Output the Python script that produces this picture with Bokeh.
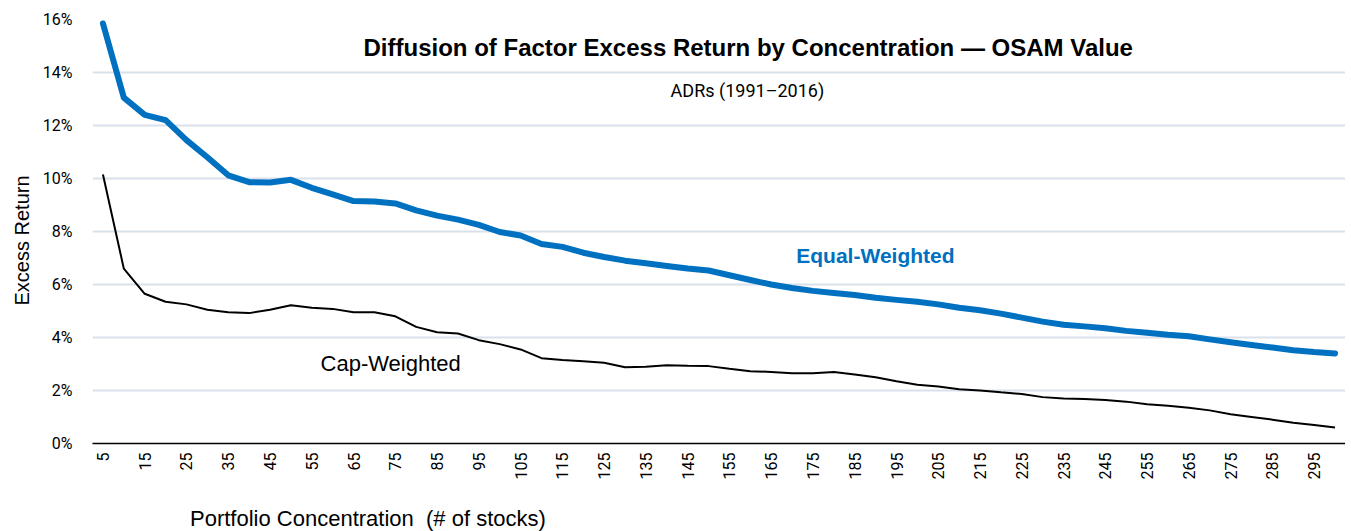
from bokeh.plotting import figure
from bokeh.models import FixedTicker, Label, Range1d, CustomJSTickFormatter, Title, Div
from bokeh.layouts import column
from bokeh.embed import file_html
from bokeh.resources import INLINE
import math

concentration = list(range(5, 305, 5))
equal_weighted = [15.85, 13.05, 12.40, 12.20, 11.45, 10.80, 10.12, 9.86, 9.85, 9.95,
                  9.65, 9.40, 9.15, 9.13, 9.06, 8.80, 8.60, 8.45, 8.25, 7.98,
                  7.85, 7.53, 7.42, 7.20, 7.04, 6.90, 6.80, 6.70, 6.60, 6.53,
                  6.35, 6.17, 6.00, 5.87, 5.76, 5.68, 5.60, 5.50, 5.42, 5.35,
                  5.25, 5.12, 5.03, 4.90, 4.75, 4.60, 4.48, 4.42, 4.35, 4.25,
                  4.18, 4.10, 4.05, 3.93, 3.82, 3.72, 3.62, 3.52, 3.45, 3.40]
cap_weighted = [10.15, 6.60, 5.65, 5.35, 5.25, 5.05, 4.95, 4.92, 5.05, 5.22,
                5.12, 5.08, 4.95, 4.95, 4.80, 4.40, 4.20, 4.15, 3.90, 3.75,
                3.55, 3.22, 3.15, 3.10, 3.05, 2.88, 2.90, 2.95, 2.93, 2.92,
                2.82, 2.73, 2.70, 2.65, 2.65, 2.70, 2.60, 2.50, 2.35, 2.22,
                2.15, 2.05, 2.00, 1.93, 1.87, 1.75, 1.70, 1.68, 1.64, 1.58,
                1.48, 1.42, 1.35, 1.25, 1.10, 1.00, 0.90, 0.78, 0.70, 0.60]
x_ticks = list(range(5, 300, 10))
y_ticks = [0, 2, 4, 6, 8, 10, 12, 14, 16]

title_text = "Diffusion of Factor Excess Return by Concentration \u2014 OSAM Value"
subtitle_text = "ADRs (1991\u20132016)"
x_label = "Portfolio Concentration&nbsp; (# of stocks)"
y_label = "Excess Return"

BLUE = "#0070c0"
NARROW = "Roboto"
SANS = "Liberation Sans"

p = figure(width=1345, height=488, output_backend="svg", toolbar_location=None,
           x_range=Range1d(2.5, 302.5), y_range=Range1d(0, 16),
           min_border_left=92, min_border_right=0, min_border_top=19, min_border_bottom=45)
p.outline_line_color = None
p.background_fill_color = "white"

p.line(concentration, equal_weighted, line_color=BLUE, line_width=6, line_join="round", line_cap="round")
p.line(concentration, cap_weighted, line_color="black", line_width=2)

# axes
p.xaxis.ticker = FixedTicker(ticks=x_ticks)
p.xaxis.major_label_orientation = math.pi / 2
p.xaxis.major_tick_out = 0
p.xaxis.major_tick_in = 0
p.xaxis.minor_tick_out = 0
p.xaxis.minor_tick_in = 0
p.xaxis.axis_line_color = "black"
p.xaxis.axis_line_width = 1.5
p.xaxis.major_label_standoff = 9
p.xaxis.major_label_text_font = NARROW
p.xaxis.major_label_text_font_size = "16px"
p.xaxis.major_label_text_color = "black"

p.yaxis.ticker = FixedTicker(ticks=y_ticks)
p.yaxis.formatter = CustomJSTickFormatter(code="return tick.toFixed(0) + '%';")
p.yaxis.axis_line_color = None
p.yaxis.major_tick_out = 0
p.yaxis.major_tick_in = 0
p.yaxis.minor_tick_out = 0
p.yaxis.minor_tick_in = 0
p.yaxis.major_label_standoff = 20
p.yaxis.major_label_text_font = NARROW
p.yaxis.major_label_text_font_size = "16px"
p.yaxis.major_label_text_color = "black"

p.xgrid.grid_line_color = None
p.ygrid.ticker = FixedTicker(ticks=y_ticks)
p.ygrid.grid_line_color = "#d9e2ec"
p.ygrid.grid_line_width = 2

p.add_layout(Label(x=159.5, y=14.94, text=title_text, text_align="center", text_baseline="middle",
                   text_font=SANS, text_font_style="bold", text_font_size="24px", text_color="black"))
p.add_layout(Label(x=159.3, y=13.32, text=subtitle_text, text_align="center", text_baseline="middle",
                   text_font=NARROW, text_font_size="18px", text_color="black"))
p.add_layout(Label(x=171.0, y=7.09, text="Equal-Weighted", text_align="left", text_baseline="middle",
                   text_font=SANS, text_font_style="bold", text_font_size="21px", text_color=BLUE))
p.add_layout(Label(x=57.1, y=3.02, text="Cap-Weighted", text_align="left", text_baseline="middle",
                   text_font=SANS, text_font_size="22px", text_color="black"))

yt = Title(text=y_label, align="left", offset=138, standoff=14, vertical_align="bottom",
           text_font=SANS, text_font_style="normal", text_font_size="20px", text_color="black")
p.add_layout(yt, "left")

xlab = Div(text=x_label, width=1345, height=43, margin=0,
           styles={"font-family": "Liberation Sans", "font-size": "22px", "color": "black",
                   "padding-left": "190px", "padding-top": "18px", "box-sizing": "border-box",
                   "line-height": "26px"})

layout = column(p, xlab, spacing=0)

open("out.html", "w").write(file_html(layout, INLINE))
